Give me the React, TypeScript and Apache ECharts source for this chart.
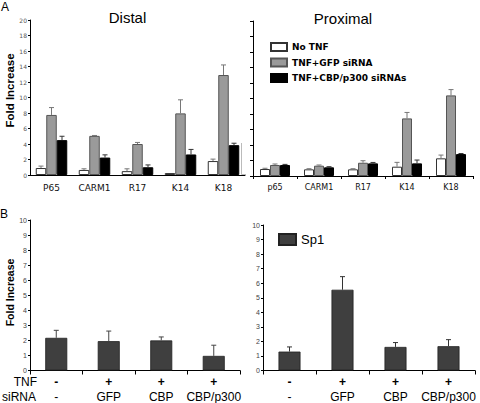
import React, { useEffect, useRef } from "react";
import * as echarts from "echarts";

// ---------- Data ----------
const distalCategories = ["P65", "CARM1", "R17", "K14", "K18"];
const proximalCategories = ["p65", "CARM1", "R17", "K14", "K18"];
const seriesNames = ["No TNF", "TNF+GFP siRNA", "TNF+CBP/p300 siRNAs"];

const distalNoTNF = [0.9, 0.65, 0.5, 0.25, 1.8];
const distalNoTNFErr = [0.25, 0.15, 0.3, 0, 0.25];
const distalGFP = [7.75, 5.05, 4.0, 7.95, 12.9];
const distalGFPErr = [0.95, 0.05, 0.2, 1.75, 1.3];
const distalCBP = [4.5, 2.25, 1.0, 2.65, 3.85];
const distalCBPErr = [0.5, 0.35, 0.3, 0.65, 0.25];

const proximalNoTNF = [0.9, 0.86, 0.86, 1.2, 2.28];
const proximalNoTNFErr = [0.1, 0.08, 0.08, 0.56, 0.42];
const proximalGFP = [1.42, 1.33, 1.71, 7.43, 10.4];
const proximalGFPErr = [0.13, 0.09, 0.26, 0.77, 0.75];
const proximalCBP = [1.42, 1.12, 1.63, 1.63, 2.83];
const proximalCBPErr = [0.08, 0.08, 0.12, 0.43, 0.07];

const tnfRow = ["-", "+", "+", "+"];
const sirnaRow = ["-", "GFP", "CBP", "CBP/p300"];
const panelBLeft = [2.17, 1.95, 2.0, 0.97];
const panelBLeftErr = [0.5, 0.67, 0.23, 0.71];
const sp1 = [1.3, 5.55, 1.62, 1.67];
const sp1Err = [0.32, 0.9, 0.3, 0.45];

const aTicks = { min: 0, max: 20, interval: 2 };
const bTicks = { min: 0, max: 10, interval: 1 };

// ---------- Styles ----------
const barStyles = [
  { color: "#ffffff", borderColor: "#333333", borderWidth: 1 },
  { color: "#9a9a9a", borderColor: "#555555", borderWidth: 1 },
  { color: "#000000", borderColor: "#000000", borderWidth: 1 },
];
const errColors = ["#777777", "#777777", "#333333"];

function errRender(offsetIndex: number, nBars: number, barW: number, color: string, capW: number) {
  return (params: any, api: any) => {
    const i = api.value(0);
    const v = api.value(1);
    const sd = api.value(2);
    if (!(sd > 0)) return null;
    const p0 = api.coord([i, v]);
    const p1 = api.coord([i, v + sd]);
    const x = p0[0] + (offsetIndex - (nBars - 1) / 2) * barW;
    return {
      type: "group",
      children: [
        { type: "line", shape: { x1: x, y1: p0[1], x2: x, y2: p1[1] }, style: { stroke: color, lineWidth: 1 } },
        { type: "line", shape: { x1: x - capW / 2, y1: p1[1], x2: x + capW / 2, y2: p1[1] }, style: { stroke: color, lineWidth: 1 } },
      ],
    };
  };
}

function errData(vals: number[], errs: number[]) {
  return vals.map((v, i) => [i, v, errs[i]]);
}

export default function App() {
  const ref = useRef<HTMLDivElement>(null);
  useEffect(() => {
    if (!ref.current) return;
    const chart = echarts.init(ref.current, undefined, { renderer: "svg" });

    const aFont = "DejaVu Sans";
    const bFont = "Liberation Sans";

    const distalVals = [distalNoTNF, distalGFP, distalCBP];
    const distalErrs = [distalNoTNFErr, distalGFPErr, distalCBPErr];
    const proxVals = [proximalNoTNF, proximalGFP, proximalCBP];
    const proxErrs = [proximalNoTNFErr, proximalGFPErr, proximalCBPErr];

    const series: any[] = [];
    const distalBW = 10.5;
    const proxBW = 10;
    distalVals.forEach((vals, k) => {
      series.push({
        type: "bar", name: seriesNames[k], xAxisIndex: 0, yAxisIndex: 0,
        data: vals, barWidth: distalBW, barGap: "0%", itemStyle: barStyles[k], z: 2,
      });
    });
    proxVals.forEach((vals, k) => {
      series.push({
        type: "bar", name: seriesNames[k], xAxisIndex: 1, yAxisIndex: 1,
        data: vals, barWidth: proxBW, barGap: "0%", itemStyle: barStyles[k], z: 2,
      });
    });
    distalVals.forEach((vals, k) => {
      series.push({
        type: "custom", xAxisIndex: 0, yAxisIndex: 0, z: 3, clip: false,
        renderItem: errRender(k, 3, distalBW, errColors[k], 5),
        encode: { x: 0, y: 1 }, data: errData(vals, distalErrs[k]),
      });
    });
    proxVals.forEach((vals, k) => {
      series.push({
        type: "custom", xAxisIndex: 1, yAxisIndex: 1, z: 3, clip: false,
        renderItem: errRender(k, 3, proxBW, errColors[k], 5),
        encode: { x: 0, y: 1 }, data: errData(vals, proxErrs[k]),
      });
    });
    const bBar = { color: "#3f3f3f", borderColor: "#222222", borderWidth: 0.8 };
    series.push({
      type: "bar", name: "Panel B left", xAxisIndex: 2, yAxisIndex: 2,
      data: panelBLeft, barWidth: 22, itemStyle: bBar, z: 2,
    });
    series.push({
      type: "bar", name: "Sp1", xAxisIndex: 3, yAxisIndex: 3,
      data: sp1, barWidth: 22, itemStyle: bBar, z: 2,
    });
    series.push({
      type: "custom", xAxisIndex: 2, yAxisIndex: 2, z: 3, clip: false,
      renderItem: errRender(0, 1, 22, "#444444", 5),
      encode: { x: 0, y: 1 }, data: errData(panelBLeft, panelBLeftErr),
    });
    series.push({
      type: "custom", xAxisIndex: 3, yAxisIndex: 3, z: 3, clip: false,
      renderItem: errRender(0, 1, 22, "#333333", 5),
      encode: { x: 0, y: 1 }, data: errData(sp1, sp1Err),
    });

    const axisLine = { show: true, lineStyle: { color: "#000", width: 1 } };
    const bLabelRich = {
      s: { fontFamily: bFont, fontSize: 12, fontWeight: "bold", color: "#000", lineHeight: 15 },
      t: { fontFamily: bFont, fontSize: 12, color: "#000", lineHeight: 15 },
    };
    const bFormatter = (_v: string, i: number) => `{s|${tnfRow[i]}}\n{t|${sirnaRow[i]}}`;

    const option: any = {
      animation: false,
      backgroundColor: "#ffffff",
      grid: [
        { left: 30, top: 20, width: 215, height: 155 },
        { left: 253, top: 21, width: 220, height: 155 },
        { left: 30, top: 220, width: 210, height: 151 },
        { left: 263, top: 225, width: 212, height: 146.5 },
      ],
      xAxis: [
        {
          type: "category", gridIndex: 0, data: distalCategories, axisLine,
          axisTick: { show: false },
          axisLabel: { fontFamily: aFont, fontSize: 9, color: "#111", margin: 8, interval: 0 },
        },
        {
          type: "category", gridIndex: 1, data: proximalCategories, axisLine,
          axisTick: { show: true, length: 3, lineStyle: { color: "#000" } },
          axisLabel: { fontFamily: aFont, fontSize: 8, color: "#111", margin: 7, interval: 0 },
        },
        {
          type: "category", gridIndex: 2, data: sirnaRow, axisLine,
          axisTick: { show: true, length: 4, lineStyle: { color: "#000" } },
          axisLabel: { formatter: bFormatter, rich: bLabelRich, margin: 4, interval: 0 },
        },
        {
          type: "category", gridIndex: 3, data: sirnaRow, axisLine,
          axisTick: { show: true, length: 4, lineStyle: { color: "#000" } },
          axisLabel: { formatter: bFormatter, rich: bLabelRich, margin: 4, interval: 0 },
        },
      ],
      yAxis: [
        {
          type: "value", gridIndex: 0, ...aTicks, axisLine, splitLine: { show: false },
          axisTick: { show: true, length: 2, lineStyle: { color: "#000" } },
          axisLabel: { fontFamily: aFont, fontSize: 6, color: "#555", margin: 3 },
        },
        {
          type: "value", gridIndex: 1, ...aTicks, axisLine, splitLine: { show: false },
          axisTick: { show: true, length: 3, lineStyle: { color: "#000" } },
          axisLabel: { show: false },
        },
        {
          type: "value", gridIndex: 2, ...bTicks, axisLine, splitLine: { show: false },
          axisTick: { show: true, length: 2, lineStyle: { color: "#000" } },
          axisLabel: { fontFamily: bFont, fontSize: 7, color: "#444", margin: 3 },
        },
        {
          type: "value", gridIndex: 3, ...bTicks, axisLine, splitLine: { show: false },
          axisTick: { show: true, length: 2, lineStyle: { color: "#000" } },
          axisLabel: { fontFamily: bFont, fontSize: 7, color: "#444", margin: 3 },
        },
      ],
      legend: [
        {
          data: seriesNames, orient: "vertical", left: 270, top: 42, padding: 0,
          itemWidth: 16, itemHeight: 8, itemGap: 5.5, icon: "rect", selectedMode: false,
          textStyle: { fontFamily: aFont, fontSize: 9, fontWeight: "bold", color: "#000", lineHeight: 10 },
        },
        {
          data: ["Sp1"], left: 278, top: 233, padding: 0,
          itemWidth: 17, itemHeight: 11, icon: "rect", selectedMode: false,
          textStyle: { fontFamily: bFont, fontSize: 13, color: "#000" },
        },
      ],
      graphic: [
        { type: "text", x: 1, y: 7, style: { text: "A", fontFamily: bFont, fontSize: 12, fill: "#000", verticalAlign: "middle" } },
        { type: "text", x: 0, y: 214, style: { text: "B", fontFamily: bFont, fontSize: 12, fill: "#000", verticalAlign: "middle" } },
        { type: "text", x: 127.5, y: 17.5, style: { text: "Distal", fontFamily: bFont, fontSize: 15, fill: "#000", align: "center", verticalAlign: "middle" } },
        { type: "text", x: 343, y: 18.5, style: { text: "Proximal", fontFamily: bFont, fontSize: 15, fill: "#000", align: "center", verticalAlign: "middle" } },
        { type: "text", x: 9.5, y: 90.5, rotation: Math.PI / 2, style: { text: "Fold Increase", fontFamily: bFont, fontSize: 11.5, fontWeight: "bold", fill: "#000", align: "center", verticalAlign: "middle" } },
        { type: "text", x: 9.5, y: 292.5, rotation: Math.PI / 2, style: { text: "Fold Increase", fontFamily: bFont, fontSize: 10.5, fontWeight: "bold", fill: "#000", align: "center", verticalAlign: "middle" } },
        { type: "text", x: 37, y: 382, style: { text: "TNF", fontFamily: bFont, fontSize: 12, fill: "#000", align: "right", verticalAlign: "middle" } },
        { type: "text", x: 36, y: 397, style: { text: "siRNA", fontFamily: bFont, fontSize: 12, fill: "#000", align: "right", verticalAlign: "middle" } },
        { type: "polyline", shape: { points: [[241.5, 143], [241.5, 174.5], [246, 174.5]] }, style: { stroke: "#bbbbbb", lineWidth: 1, fill: "none" } },
      ],
      series,
    };
    chart.setOption(option);
    return () => chart.dispose();
  }, []);

  return (
    <div
      ref={ref}
      style={{ position: "fixed", left: 0, top: 0, width: 480, height: 403, background: "#fff" }}
    />
  );
}
